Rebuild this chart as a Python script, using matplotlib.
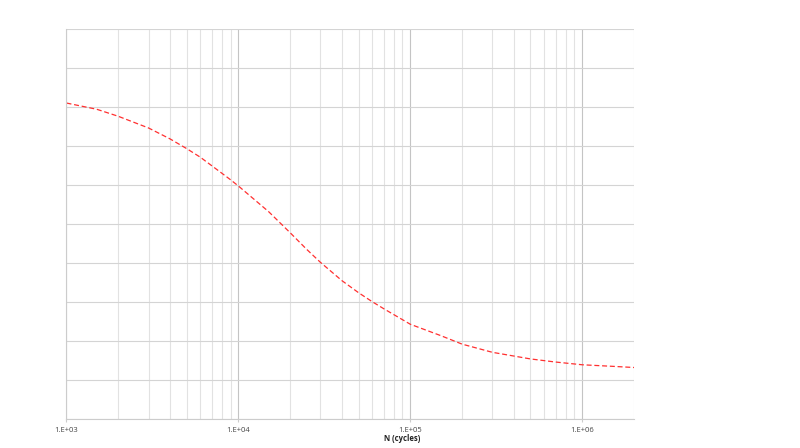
import math
import matplotlib

matplotlib.use("Agg")
import matplotlib.pyplot as plt
from matplotlib.ticker import LogLocator, FixedLocator, NullFormatter, FuncFormatter

plt.rcParams["font.family"] = ["Open Sans", "DejaVu Sans"]

# values (y in grid units, 10 divisions)
cycles = [1e3, 1.5e3, 2e3, 3e3, 4e3, 5e3, 6e3, 7e3, 8e3, 9e3, 1e4, 1.5e4,
          2e4, 2.5e4, 3e4, 4e4, 5e4, 6e4, 7e4, 8e4, 1e5, 1.5e5, 2e5, 3e5,
          5e5, 7e5, 1e6, 1.5e6, 2e6]
curve = [8.10, 7.94, 7.76, 7.46, 7.18, 6.93, 6.71, 6.49, 6.30, 6.13, 5.97,
         5.31, 4.77, 4.34, 4.01, 3.54, 3.23, 3.00, 2.82, 2.67, 2.42, 2.13,
         1.91, 1.70, 1.53, 1.45, 1.38, 1.34, 1.31]
x_ticks = [1e3, 1e4, 1e5, 1e6]
y_grid = list(range(0, 11))

fig = plt.figure(figsize=(8, 4.48), dpi=100)
ax = fig.add_axes([0.0831, 0.0658, 0.7094, 0.8694])

ax.plot(cycles, curve, color="#ff3030", lw=0.9, linestyle=(0, (4, 2.2)))

ax.set_xscale("log")
ax.set_xlim(1e3, 2e6)
ax.set_ylim(0, 10)

ax.xaxis.set_major_locator(FixedLocator(x_ticks))
ax.xaxis.set_minor_locator(LogLocator(base=10, subs=range(2, 10), numticks=20))
ax.xaxis.set_minor_formatter(NullFormatter())
ax.xaxis.set_major_formatter(FuncFormatter(lambda v, p: "1.E+%02d" % round(math.log10(v))))
ax.yaxis.set_major_locator(FixedLocator(y_grid))
ax.set_yticklabels([])

ax.grid(which="major", axis="x", color="#c4c4c4", lw=0.8)
ax.grid(which="minor", axis="x", color="#e2e2e2", lw=0.8)
ax.grid(which="major", axis="y", color="#d4d4d4", lw=0.8)

for s in ["top", "right"]:
    ax.spines[s].set_visible(False)
ax.spines["left"].set_color("#cccccc")
ax.spines["bottom"].set_color("#cccccc")
ax.spines["left"].set_linewidth(0.8)
ax.spines["bottom"].set_linewidth(0.8)

ax.tick_params(axis="x", which="major", length=2, color="#cccccc", labelsize=5.5,
               labelcolor="#444444", pad=4)
ax.tick_params(axis="x", which="minor", length=0)
ax.tick_params(axis="y", length=0)

fig.text(0.503, 0.021, "N (cycles)", ha="center", va="center", fontsize=5.5,
         fontweight="bold", color="#222222")

fig.savefig("out.png", dpi=100)
